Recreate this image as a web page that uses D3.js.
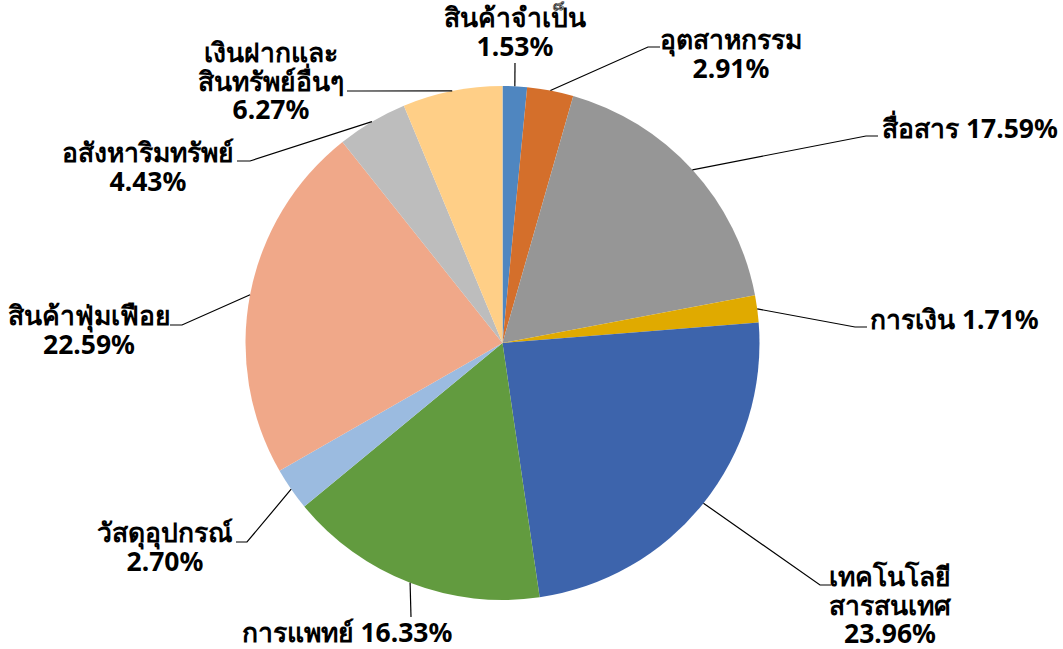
<!DOCTYPE html>
<html>
<head>
<meta charset="utf-8">
<script src="https://cdn.jsdelivr.net/npm/d3@7"></script>
<style>
  html, body { margin: 0; padding: 0; background: #fff; }
  svg { display: block; }
  text { font-family: Tahoma, "Noto Sans", "DejaVu Sans", sans-serif; font-weight: bold; fill: #000; }
</style>
</head>
<body>
<svg id="chart" width="1063" height="649"></svg>
<script>
// ---- data ----
const categories = ["สินค้าจำเป็น", "อุตสาหกรรม", "สื่อสาร", "การเงิน", "เทคโนโลยีสารสนเทศ",
  "การแพทย์", "วัสดุอุปกรณ์", "สินค้าฟุ่มเฟือย", "อสังหาริมทรัพย์", "เงินฝากและสินทรัพย์อื่นๆ"];
const values = [1.53, 2.91, 17.59, 1.71, 23.96, 16.33, 2.70, 22.59, 4.43, 6.27];
const valueLabels = ["1.53%", "2.91%", "17.59%", "1.71%", "23.96%", "16.33%", "2.70%", "22.59%", "4.43%", "6.27%"];
const labelLines = [
  ["สินค้าจำเป็น", "1.53%"],
  ["อุตสาหกรรม", "2.91%"],
  ["สื่อสาร 17.59%"],
  ["การเงิน 1.71%"],
  ["เทคโนโลยี", "สารสนเทศ", "23.96%"],
  ["การแพทย์ 16.33%"],
  ["วัสดุอุปกรณ์", "2.70%"],
  ["สินค้าฟุ่มเฟือย", "22.59%"],
  ["อสังหาริมทรัพย์", "4.43%"],
  ["เงินฝากและ", "สินทรัพย์อื่นๆ", "6.27%"]
];
const colors = ["#4F86C0", "#D46F2B", "#969696", "#E0AA00", "#3D64AC",
  "#629B3F", "#9BBBE0", "#F0A889", "#BDBDBD", "#FFCF87"];

// ---- layout (positions only) ----
const cx = 502.5, cy = 343, R = 257;
const labelPos = [
  {x: 515, y: 27, anchor: "middle"},
  {x: 731, y: 49, anchor: "middle"},
  {x: 882, y: 138, anchor: "start"},
  {x: 870, y: 329, anchor: "start"},
  {x: 890, y: 586, anchor: "middle"},
  {x: 347, y: 642, anchor: "middle"},
  {x: 165, y: 542, anchor: "middle"},
  {x: 89, y: 325, anchor: "middle"},
  {x: 148, y: 162, anchor: "middle"},
  {x: 271, y: 62, anchor: "middle"}
];
const leaders = [
  [[515, 63], [515, 63]],
  [[648, 47], [660, 47]],
  [[866, 136], [878, 136]],
  [[855, 327], [867, 327]],
  [[820, 585], [831, 585]],
  [[411, 617], [411, 617]],
  [[247, 542], [236, 542]],
  [[182, 325], [170, 325]],
  [[250, 161], [237, 161]],
  [[359, 91], [347, 91]]
];
const lineHeight = 28.5;

const svg = d3.select("#chart");
const g = svg.append("g").attr("transform", `translate(${cx},${cy})`);

const pie = d3.pie().sort(null).value(d => d)(values);
const arc = d3.arc().innerRadius(0).outerRadius(R);

g.selectAll("path.slice")
  .data(pie)
  .join("path")
  .attr("class", "slice")
  .attr("d", arc)
  .attr("fill", (d, i) => colors[i])
  .attr("stroke", "none");

const lineGen = d3.line();
svg.selectAll("path.leader")
  .data(pie)
  .join("path")
  .attr("class", "leader")
  .attr("fill", "none")
  .attr("stroke", "#000")
  .attr("stroke-width", 1.2)
  .attr("d", (d, i) => {
    const a = (d.startAngle + d.endAngle) / 2;
    const p0 = [cx + R * Math.sin(a), cy - R * Math.cos(a)];
    return lineGen([p0, leaders[i][0], leaders[i][1]]);
  });

const labels = svg.selectAll("text.lbl")
  .data(labelLines)
  .join("text")
  .attr("class", "lbl")
  .attr("font-size", 26.5)
  .attr("text-anchor", (d, i) => labelPos[i].anchor)
  .attr("x", (d, i) => labelPos[i].x)
  .attr("y", (d, i) => labelPos[i].y);

labels.each(function(lines, i) {
  d3.select(this).selectAll("tspan")
    .data(lines)
    .join("tspan")
    .attr("x", labelPos[i].x)
    .attr("dy", (l, j) => j === 0 ? 0 : lineHeight)
    .text(l => l);
});
</script>
</body>
</html>
